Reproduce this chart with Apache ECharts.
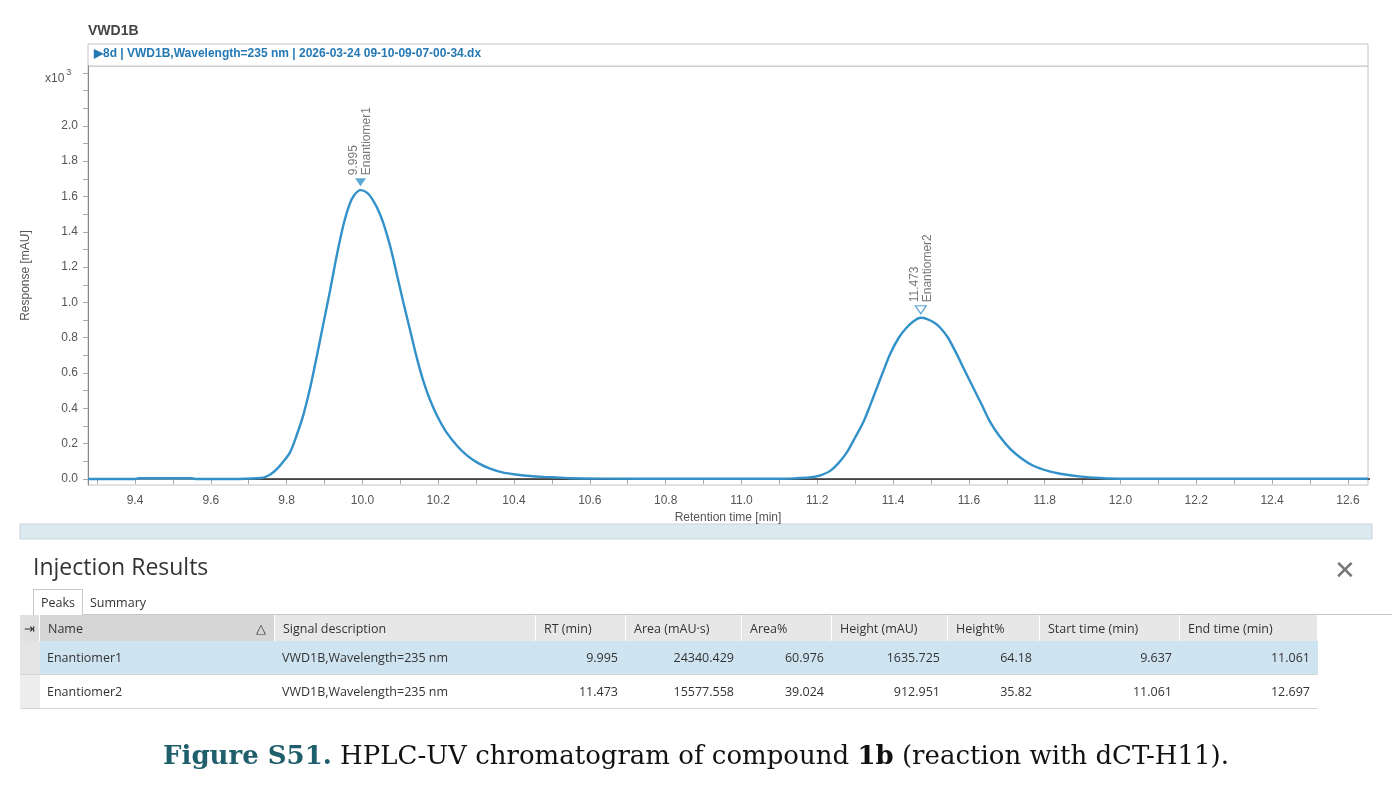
<!DOCTYPE html>
<html>
<head>
<meta charset="utf-8">
<script src="https://cdn.jsdelivr.net/npm/echarts@6/dist/echarts.min.js"></script>
<style>
  body { margin: 0; background: #fff; }
  #main { position: absolute; left: 0; top: 0; width: 1392px; height: 791px; }
  .ui { position: absolute; font-family: "Open Sans", sans-serif; color: #333; }
  #title { left: 33px; top: 550px; font-size: 23px; }
  #close { left: 1334px; top: 551px; font-size: 26px; color: #777; font-weight: 300; }
  #tabs { left: 33px; top: 589px; width: 1359px; height: 25px; border-bottom: 1px solid #c8c8c8; font-size: 12.5px; }
  #tabs span { display: inline-block; height: 25px; line-height: 25px; padding: 0 7px; }
  #tabs .on { border: 1px solid #c8c8c8; border-bottom: 1px solid #fff; background: #fff; height: 25px; }
  table { position: absolute; left: 20px; top: 615px; border-collapse: collapse; font-family: "Open Sans", sans-serif; font-size: 12.5px; color: #333; }
  th { background: #e7e7e7; font-weight: normal; text-align: left; height: 26px; padding: 0 8px; border-right: 1px solid #fff; }
  th.sorted { background: #d6d6d6; }
  td { height: 33px; padding: 0 7px; border-bottom: 1px solid #d6d6d6; border-right: 1px solid transparent; }
  td.num { text-align: right; }
  td.gut { background: #ededed; padding: 0; }
  tr.sel td { background: #cfe4f1; }
  tr.sel td.gut { background: #e4e4e4; }
  #caption { left: 0; width: 1392px; top: 740px; text-align: center; font-family: "DejaVu Serif", serif; font-size: 26px; color: #111; }
  #caption .fig { color: #1f5f6c; font-weight: bold; }
</style>
</head>
<body>
<div id="main"></div>
<div class="ui" id="title">Injection Results</div>
<div class="ui" id="close">&#x2715;</div>
<div class="ui" id="tabs"><span class="on">Peaks</span><span>Summary</span></div>
<table id="peaks"></table>
<div class="ui" id="caption"><span class="fig">Figure S51.</span> HPLC-UV chromatogram of compound <b>1b</b> (reaction with dCT-H11).</div>
<script>
// chromatogram trace, retention time [min] vs response [x10^3 mAU]
var timePts = [9.276, 9.40, 9.41, 9.55, 9.56, 9.64, 9.695, 9.72, 9.739, 9.757, 9.774, 9.79, 9.809, 9.826, 9.844, 9.862, 9.879, 9.897, 9.915, 9.932, 9.950, 9.965, 9.978, 9.995, 10.012, 10.026, 10.04, 10.055, 10.073, 10.090, 10.108, 10.126, 10.143, 10.161, 10.178, 10.196, 10.22, 10.249, 10.275, 10.302, 10.335, 10.372, 10.41, 10.442, 10.48, 10.52, 10.55, 10.65, 10.8, 11.0, 11.1, 11.146, 11.17, 11.190, 11.21, 11.234, 11.256, 11.278, 11.30, 11.322, 11.34, 11.357, 11.375, 11.392, 11.415, 11.436, 11.455, 11.473, 11.49, 11.51, 11.524, 11.545, 11.568, 11.59, 11.612, 11.634, 11.656, 11.68, 11.709, 11.74, 11.770, 11.81, 11.849, 11.89, 11.929, 11.97, 12.1, 12.3, 12.5, 12.653];
var respPts = [0, 0, 0.004, 0.004, 0, 0, 0.002, 0.004, 0.008, 0.025, 0.056, 0.095, 0.151, 0.245, 0.362, 0.515, 0.688, 0.88, 1.071, 1.263, 1.44, 1.55, 1.607, 1.636, 1.622, 1.585, 1.53, 1.45, 1.32, 1.167, 1.0, 0.841, 0.69, 0.553, 0.45, 0.362, 0.27, 0.190, 0.135, 0.094, 0.06, 0.036, 0.024, 0.017, 0.012, 0.008, 0.004, 0.002, 0.001, 0.001, 0.001, 0.004, 0.007, 0.011, 0.022, 0.046, 0.09, 0.151, 0.235, 0.324, 0.42, 0.515, 0.615, 0.707, 0.80, 0.858, 0.895, 0.913, 0.906, 0.884, 0.858, 0.80, 0.707, 0.61, 0.515, 0.42, 0.324, 0.245, 0.171, 0.115, 0.075, 0.045, 0.027, 0.015, 0.008, 0.003, 0.001, 0.001, 0.001, 0.001];

// integration baseline points
var baseTimes = [9.637, 11.061, 12.697];
var baseResp = [0, 0, 0];

// peaks
var peakNames = ['Enantiomer1', 'Enantiomer2'];
var peakRT = [9.995, 11.473];
var peakHeight = [1635.725, 912.951];
var peakArea = [24340.429, 15577.558];
var peakAreaPct = [60.976, 39.024];
var peakHeightPct = [64.18, 35.82];
var peakStart = [9.637, 11.061];
var peakEnd = [11.061, 12.697];
var signalDesc = 'VWD1B,Wavelength=235 nm';

// axis ticks
var xTicks = [9.3, 9.4, 9.5, 9.6, 9.7, 9.8, 9.9, 10.0, 10.1, 10.2, 10.3, 10.4, 10.5, 10.6, 10.7, 10.8, 10.9, 11.0, 11.1, 11.2, 11.3, 11.4, 11.5, 11.6, 11.7, 11.8, 11.9, 12.0, 12.1, 12.2, 12.3, 12.4, 12.5, 12.6];
var xLabels = [9.4, 9.6, 9.8, 10.0, 10.2, 10.4, 10.6, 10.8, 11.0, 11.2, 11.4, 11.6, 11.8, 12.0, 12.2, 12.4, 12.6];
var yTicks = [0, 0.1, 0.2, 0.3, 0.4, 0.5, 0.6, 0.7, 0.8, 0.9, 1.0, 1.1, 1.2, 1.3, 1.4, 1.5, 1.6, 1.7, 1.8, 1.9, 2.0, 2.1, 2.2, 2.3];
var yLabels = [0, 0.2, 0.4, 0.6, 0.8, 1.0, 1.2, 1.4, 1.6, 1.8, 2.0];

var lineColor = '#3291c9';
var axisFont = 'Liberation Sans';

var trace = timePts.map(function (t, i) { return [t, respPts[i]]; });
var base = baseTimes.map(function (t, i) { return [t, baseResp[i]]; });

var markers = peakRT.map(function (rt, i) {
    return {
        value: [rt, peakHeight[i] / 1000],
        label: { formatter: rt.toFixed(3) + '\n' + peakNames[i] },
        itemStyle: i === 0 ? { color: lineColor } : { color: '#fff', borderColor: lineColor, borderWidth: 1.2 }
    };
});

var myChart = echarts.init(document.getElementById('main'));

var option = {
    animation: false,
    textStyle: { fontFamily: axisFont },
    grid: {
        left: 88, right: 24, top: 66, height: 419,
        show: true, borderColor: '#c4c4c4', borderWidth: 1
    },
    xAxis: {
        type: 'value',
        min: 9.276, max: 12.653,
        name: 'Retention time [min]',
        nameLocation: 'middle', nameGap: 24,
        nameTextStyle: { color: '#555', fontSize: 12, fontFamily: axisFont },
        axisLine: { lineStyle: { color: '#8a8a8a' } },
        axisTick: { customValues: xTicks, length: 5, lineStyle: { color: '#aaa' } },
        axisLabel: {
            customValues: xLabels, color: '#555', fontSize: 12, margin: 10,
            formatter: function (v) { return v.toFixed(1); }
        },
        splitLine: { show: false }
    },
    yAxis: {
        type: 'value',
        min: -0.034, max: 2.339,
        name: 'Response [mAU]',
        nameLocation: 'middle', nameGap: 56, nameRotate: 90,
        nameTextStyle: { color: '#555', fontSize: 12, fontFamily: axisFont },
        axisLine: { show: true, lineStyle: { color: '#8a8a8a' } },
        axisTick: { show: true, customValues: yTicks, length: 5, lineStyle: { color: '#aaa' } },
        axisLabel: {
            customValues: yLabels, color: '#555', fontSize: 12, margin: 10,
            formatter: function (v) { return v.toFixed(1); }
        },
        splitLine: { show: false }
    },
    graphic: [
        { type: 'text', left: 88, top: 24, style: { text: 'VWD1B', font: 'bold 14px Liberation Sans', fill: '#444' } },
        { type: 'rect', shape: { x: 88, y: 44, width: 1280, height: 22 }, style: { fill: '#fff', stroke: '#c4c4c4', lineWidth: 1 } },
        { type: 'text', left: 94, top: 48, style: { text: '\u25B68d | VWD1B,Wavelength=235 nm | 2026-03-24 09-10-09-07-00-34.dx', font: 'bold 12px Liberation Sans', fill: '#2479b5' } },
        {
            type: 'text', left: 45, top: 68,
            style: {
                text: '{a|x10}{b|3}',
                rich: {
                    a: { font: '12px Liberation Sans', fill: '#555', verticalAlign: 'bottom' },
                    b: { font: '9px Liberation Sans', fill: '#555', padding: [0, 0, 8, 2] }
                }
            }
        },
        { type: 'rect', shape: { x: 20, y: 524, width: 1352, height: 15 }, style: { fill: '#dde9f0', stroke: '#c9d2d8', lineWidth: 1 } }
    ],
    series: [
        {
            name: 'Baseline',
            type: 'line',
            data: base,
            showSymbol: false,
            lineStyle: { color: '#2b2b2b', width: 1.5 },
            z: 2
        },
        {
            name: 'VWD1B',
            type: 'line',
            data: trace,
            showSymbol: false,
            smooth: 0.3,
            lineStyle: { color: lineColor, width: 2.4 },
            z: 3
        },
        {
            name: 'Peaks',
            type: 'scatter',
            data: markers,
            symbol: 'triangle',
            symbolRotate: 180,
            symbolSize: [11, 8],
            symbolOffset: [0, -8],
            z: 4,
            label: {
                show: true,
                position: 'top',
                distance: 3,
                rotate: 90,
                align: 'left',
                verticalAlign: 'middle',
                color: '#555',
                fontSize: 12,
                lineHeight: 13,
                fontFamily: axisFont
            }
        }
    ]
};

myChart.setOption(option);

// peak table under the chart
var rows = '<tr><th style="width:4px;padding:0 4px;background:#e0e0e0">&#x21E5;</th>' +
    '<th class="sorted" style="width:218px">Name<span style="float:right">&#x25B3;</span></th>' +
    '<th style="width:244px">Signal description</th><th style="width:73px">RT (min)</th>' +
    '<th style="width:99px">Area (mAU&middot;s)</th><th style="width:73px">Area%</th>' +
    '<th style="width:99px">Height (mAU)</th><th style="width:75px">Height%</th>' +
    '<th style="width:123px">Start time (min)</th><th style="width:121px">End time (min)</th></tr>';
peakNames.forEach(function (n, i) {
    rows += '<tr' + (i === 0 ? ' class="sel"' : '') + '><td class="gut"></td><td>' + n + '</td><td>' + signalDesc + '</td>' +
        '<td class="num">' + peakRT[i].toFixed(3) + '</td><td class="num">' + peakArea[i].toFixed(3) + '</td>' +
        '<td class="num">' + peakAreaPct[i].toFixed(3) + '</td><td class="num">' + peakHeight[i].toFixed(3) + '</td>' +
        '<td class="num">' + peakHeightPct[i].toFixed(2) + '</td><td class="num">' + peakStart[i].toFixed(3) + '</td>' +
        '<td class="num">' + peakEnd[i].toFixed(3) + '</td></tr>';
});
document.getElementById('peaks').innerHTML = rows;
</script>
</body>
</html>
